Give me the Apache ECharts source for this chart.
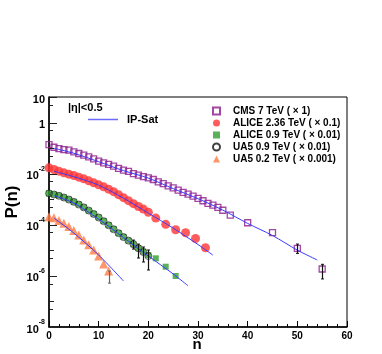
<!DOCTYPE html>
<html>
<head>
<meta charset="utf-8">
<script src="https://cdn.jsdelivr.net/npm/echarts@6/dist/echarts.min.js"></script>
<style>
  html, body { margin: 0; padding: 0; background: #fff; }
  #chart { width: 382px; height: 354px; }
</style>
</head>
<body>
<div id="chart"></div>
<script>
const FONT = '"Liberation Sans", Arial, Helvetica, sans-serif';
const BLUE = '#3a3aff';

// CMS 7 TeV (x 1)
const cmsN = [0, 1, 2, 3, 4, 5, 6, 7, 8, 9, 10, 11, 12, 13, 14, 15, 16, 17, 18, 19, 20,
  21, 22, 23, 24, 25, 26, 27, 28, 29, 30, 31, 32, 33, 34, 35, 36.5, 40, 45, 50, 55];
const cmsP = [0.138, 0.108, 0.096, 0.088, 0.083, 0.071, 0.0615, 0.0528, 0.0453, 0.0379, 0.0308,
  0.0264, 0.0229, 0.0196, 0.0160, 0.0137, 0.0123, 0.0100, 0.0087, 0.0076, 0.0069,
  0.0059, 0.0048, 0.0041, 0.0033, 0.0028, 0.00226, 0.00184, 0.00158, 0.00132, 0.00107,
  0.00087, 0.00069, 0.00059, 0.00048, 0.00037, 0.00024, 1.2e-4, 4.9e-5, 1.2e-5, 1.86e-6];

// ALICE 2.36 TeV (x 0.1)
const alice236N = [0, 1, 2, 3, 4, 5, 6, 7, 8, 9, 10, 11, 12, 13, 14, 15, 16, 17, 18, 19, 20,
  21.5, 23.5, 25.5, 27.5, 29.5, 31.5];
const alice236P = [0.01686, 0.01459, 0.01253, 0.01074, 0.00955, 0.00851, 0.0073, 0.00626, 0.00523,
  0.00437, 0.00365, 0.00305, 0.00248, 0.00198, 0.00151, 0.00115, 0.00088, 0.00067, 0.00052,
  0.00041, 0.00031, 1.83e-4, 1.04e-4, 6.4e-5, 4.9e-5, 2.9e-5, 1.26e-5];

// ALICE 0.9 TeV (x 0.01)
const alice09N = [0, 1, 2, 3, 4, 5, 6, 7, 8, 9, 10, 11, 12, 13, 14, 15, 16, 17, 18, 19, 20,
  21.5, 23.5, 25.5];
const alice09P = [1.69e-3, 1.54e-3, 1.38e-3, 1.175e-3, 9.8e-4, 7.9e-4, 6.3e-4, 4.83e-4, 3.59e-4,
  2.67e-4, 1.95e-4, 1.40e-4, 9.7e-5, 6.8e-5, 4.74e-5, 3.37e-5, 2.42e-5, 1.71e-5, 1.23e-5,
  8.97e-6, 6.55e-6, 4.87e-6, 2.29e-6, 9.9e-7];

// UA5 0.9 TeV (x 0.01)
const ua509N = [0, 1, 2, 3, 4, 5, 6, 7, 8, 9, 10, 11, 12, 13, 14, 15, 16, 17, 18, 19, 20];
const ua509P = [1.70e-3, 1.53e-3, 1.36e-3, 1.17e-3, 9.7e-4, 7.9e-4, 6.2e-4, 4.8e-4, 3.6e-4,
  2.65e-4, 1.93e-4, 1.38e-4, 9.6e-5, 6.7e-5, 4.7e-5, 3.3e-5, 2.4e-5, 1.75e-5, 1.2e-5, 8.6e-6, 6.0e-6];

// UA5 0.2 TeV (x 0.001)
const ua502N = [0, 1, 2, 3, 4, 5, 6, 7, 8, 9, 10, 11, 12];
const ua502P = [2.05e-4, 1.89e-4, 1.47e-4, 1.16e-4, 8.6e-5, 6.0e-5, 3.96e-5, 2.52e-5, 1.67e-5,
  1.03e-5, 5.98e-6, 2.92e-6, 1.55e-6];

// IP-Sat curves
const ipsatCmsN = [1, 5, 10, 15, 20, 25, 30, 35, 40, 45, 50, 54];
const ipsatCmsP = [0.098, 0.063, 0.0294, 0.0131, 0.0067, 0.0026, 0.00105, 3.75e-4, 1.13e-4, 3.8e-5, 1.02e-5, 4.2e-6];
const ipsat236N = [1, 5, 10, 15, 20, 25, 30, 33];
const ipsat236P = [0.0125, 0.0076, 0.00356, 0.0011, 2.86e-4, 7.4e-5, 1.69e-5, 6.5e-6];
const ipsat09N = [1, 5, 10, 15, 20, 25, 28];
const ipsat09P = [1.38e-3, 7.05e-4, 1.67e-4, 3.16e-5, 6.0e-6, 1.19e-6, 4.1e-7];
const ipsat02N = [1, 5, 10, 15];
const ipsat02P = [1.83e-4, 4.74e-5, 6.55e-6, 6.3e-7];

// error bars
const cmsErrN = [50, 55];
const cmsErrLo = [7.6e-6, 7.6e-7];
const cmsErrHi = [1.76e-5, 2.84e-6];
const ua509ErrN = [17, 18, 19, 20];
const ua509ErrLo = [1.12e-5, 5.0e-6, 3.5e-6, 1.7e-6];
const ua509ErrHi = [2.52e-5, 1.76e-5, 1.35e-5, 1.03e-5];
const ua502ErrN = [12];
const ua502ErrLo = [5.2e-7];
const ua502ErrHi = [1.55e-6];

// y axis ticks
const yTicksLong = [10, 1, 1e-2, 1e-4, 1e-6, 1e-8];
const yTicksMid = [1e-1, 1e-3, 1e-5, 1e-7];
const yTicksShort = [5, 0.5, 0.05, 5e-3, 5e-4, 5e-5, 5e-6, 5e-7, 5e-8];

const zip = (xs, ys) => xs.map((x, i) => [x, ys[i]]);
const zip3 = (xs, a, b) => xs.map((x, i) => [x, a[i], b[i]]);

const chart = echarts.init(document.getElementById('chart'));

const errBar = (color) => (params, api) => {
  const p1 = api.coord([api.value(0), api.value(1)]);
  const p2 = api.coord([api.value(0), api.value(2)]);
  const x = Math.round(p1[0]) + 0.5;
  return {
    type: 'group',
    children: [
      { type: 'line', shape: { x1: x, y1: p1[1], x2: x, y2: p2[1] }, style: { stroke: color, lineWidth: 1.2 } },
      { type: 'line', shape: { x1: x - 1.5, y1: p1[1], x2: x + 1.5, y2: p1[1] }, style: { stroke: color, lineWidth: 1 } },
      { type: 'line', shape: { x1: x - 1.5, y1: p2[1], x2: x + 1.5, y2: p2[1] }, style: { stroke: color, lineWidth: 1 } }
    ]
  };
};

const tickItem = (params, api) => {
  const p = api.coord([0, api.value(1)]);
  const y = Math.round(p[1]) + 0.5;
  return {
    type: 'line',
    shape: { x1: p[0], y1: y, x2: p[0] + api.value(2), y2: y },
    style: { stroke: '#222', lineWidth: 1 }
  };
};

const lineSeries = (data) => ({
  name: 'IP-Sat',
  type: 'line',
  data: data,
  smooth: 0.3,
  symbol: 'none',
  color: BLUE,
  itemStyle: { color: BLUE },
  lineStyle: { color: BLUE, width: 1 },
  z: 5
});

const legendText = { fontFamily: FONT, fontWeight: 'bold', fontSize: 10, color: '#000', padding: [0, 0, 0, 8], lineHeight: 12 };

const option = {
  animation: false,
  backgroundColor: '#fff',
  grid: { left: 49, right: 35, top: 97, bottom: 27, show: true, borderColor: '#000', borderWidth: 1 },
  legend: [
    {
      data: ['CMS 7 TeV ( × 1)', 'ALICE 2.36 TeV ( × 0.1)', 'ALICE 0.9 TeV ( × 0.01)', 'UA5 0.9 TeV ( × 0.01)', 'UA5 0.2 TeV ( × 0.001)'],
      orient: 'vertical',
      left: 207,
      top: 100,
      itemWidth: 7,
      itemHeight: 7,
      itemGap: 0,
      selectedMode: false,
      textStyle: legendText
    },
    {
      data: ['IP-Sat'],
      icon: 'rect',
      left: 83,
      top: 109,
      itemWidth: 30,
      itemHeight: 1.5,
      selectedMode: false,
      itemStyle: { color: '#6a6aff', borderWidth: 0 },
      lineStyle: { color: '#6a6aff' },
      textStyle: { fontFamily: FONT, fontWeight: 'bold', fontSize: 11, color: '#000', padding: [0, 0, 0, 4] }
    }
  ],
  xAxis: {
    type: 'value',
    min: 0,
    max: 60,
    interval: 10,
    axisLine: { lineStyle: { color: '#000', width: 1.5 } },
    axisTick: { inside: true, length: 6, lineStyle: { color: '#000' } },
    minorTick: { show: true, splitNumber: 5, length: 3, lineStyle: { color: '#000' } },
    axisLabel: { margin: 4, fontFamily: FONT, fontWeight: 'bold', fontSize: 10, color: '#000' },
    splitLine: { show: false }
  },
  yAxis: {
    type: 'log',
    logBase: 10,
    min: 1e-8,
    max: 10,
    splitNumber: 9,
    axisLine: { show: true, lineStyle: { color: '#000', width: 1.5 } },
    axisTick: { show: false },
    splitLine: { show: false },
    axisLabel: {
      margin: 4,
      formatter: (v) => {
        const e = Math.round(Math.log10(v));
        if (e === 1) return '{b|10}';
        if (e === 0) return '{b|1}';
        if (e % 2 === 0) return '{b|10}{s|' + e + '}';
        return '';
      },
      rich: {
        b: { fontFamily: FONT, fontWeight: 'bold', fontSize: 11, color: '#000', lineHeight: 16, verticalAlign: 'bottom' },
        s: { fontFamily: FONT, fontWeight: 'bold', fontSize: 7, color: '#000', lineHeight: 16, verticalAlign: 'top' }
      }
    }
  },
  graphic: [
    { type: 'text', left: 68, top: 102, style: { text: '|η|<0.5', font: 'bold 11px ' + FONT, fill: '#000' } },
    { type: 'text', x: 197, y: 345, style: { text: 'n', font: 'bold 15px ' + FONT, fill: '#000', align: 'center', verticalAlign: 'middle' } },
    { type: 'text', x: 12, y: 202, rotation: Math.PI / 2, style: { text: 'P(n)', font: 'bold 17px ' + FONT, fill: '#000', align: 'center', verticalAlign: 'middle' } }
  ],
  series: [
    {
      name: 'CMS 7 TeV ( × 1)',
      type: 'scatter',
      data: zip(cmsN, cmsP),
      symbol: 'rect',
      symbolSize: 6,
      color: '#8b1a8b',
      itemStyle: { color: 'transparent', borderColor: '#8b1a8b', borderWidth: 1.3 }
    },
    {
      name: 'ALICE 2.36 TeV ( × 0.1)',
      type: 'scatter',
      data: zip(alice236N, alice236P),
      symbol: 'circle',
      symbolSize: 9,
      itemStyle: { color: '#ff3535' }
    },
    {
      name: 'ALICE 0.9 TeV ( × 0.01)',
      type: 'scatter',
      data: zip(alice09N, alice09P),
      symbol: 'rect',
      symbolSize: 6,
      itemStyle: { color: '#2f9e2f' }
    },
    {
      name: 'UA5 0.9 TeV ( × 0.01)',
      type: 'scatter',
      data: zip(ua509N, ua509P),
      symbol: 'circle',
      symbolSize: 7,
      color: '#111',
      itemStyle: { color: 'transparent', borderColor: '#111', borderWidth: 0.8 }
    },
    {
      name: 'UA5 0.2 TeV ( × 0.001)',
      type: 'scatter',
      data: zip(ua502N, ua502P),
      symbol: 'triangle',
      symbolSize: 9,
      itemStyle: { color: '#ff7a45' }
    },
    lineSeries(zip(ipsatCmsN, ipsatCmsP)),
    lineSeries(zip(ipsat236N, ipsat236P)),
    lineSeries(zip(ipsat09N, ipsat09P)),
    lineSeries(zip(ipsat02N, ipsat02P)),
    {
      type: 'custom', renderItem: errBar('#111'), data: zip3(cmsErrN, cmsErrLo, cmsErrHi),
      encode: { x: 0, y: [1, 2] }, z: 6
    },
    {
      type: 'custom', renderItem: errBar('#111'), data: zip3(ua509ErrN, ua509ErrLo, ua509ErrHi),
      encode: { x: 0, y: [1, 2] }, z: 6
    },
    {
      type: 'custom', renderItem: errBar('#666'), data: zip3(ua502ErrN, ua502ErrLo, ua502ErrHi),
      encode: { x: 0, y: [1, 2] }, z: 6
    },
    {
      type: 'custom', renderItem: tickItem, clip: false, z: 7,
      data: yTicksLong.map(v => [0, v, 8]).concat(yTicksMid.map(v => [0, v, 5]), yTicksShort.map(v => [0, v, 4])),
      encode: { x: 0, y: 1 }
    }
  ]
};

chart.setOption(option);
</script>
</body>
</html>
